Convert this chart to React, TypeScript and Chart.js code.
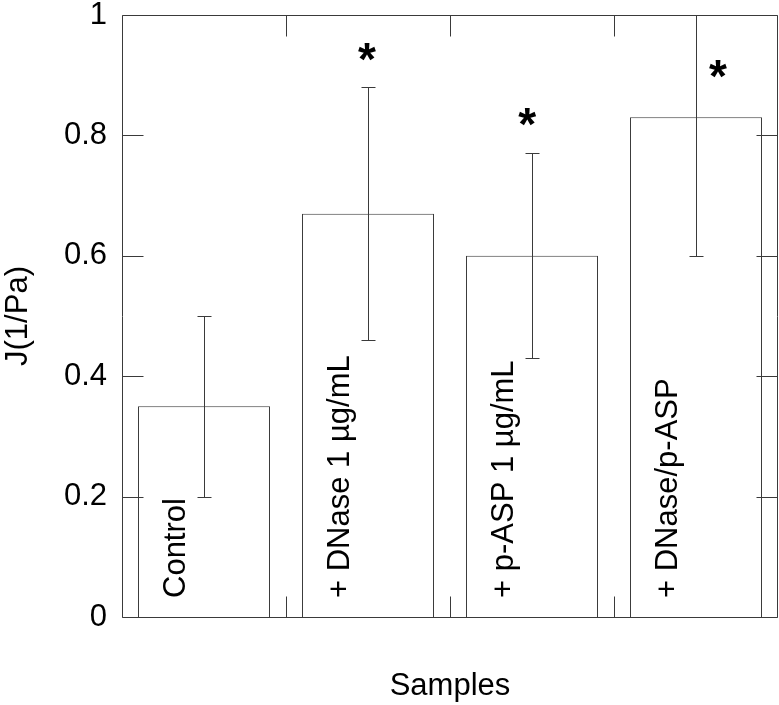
import React, { useEffect, useRef } from "react";
import { Chart, registerables } from "chart.js";
Chart.register(...registerables);

const categories = ["Control", "+ DNase 1 µg/mL", "+ p-ASP 1 µg/mL", "+ DNase/p-ASP"];
const meanJ = [0.35, 0.67, 0.6, 0.83];
const errJ = [0.15, 0.21, 0.17, 0.23];
const starValue: (number | null)[] = [null, 0.937, 0.829, 0.909];
const starShift = [0, -0.006, -0.03, 0.134];
const yTickLabels = ["0", "0.2", "0.4", "0.6", "0.8", "1"];
const xTitle = "Samples";
const yTitle = "J(1/Pa)";

const FONT = "'Liberation Sans', Arial, Helvetica, sans-serif";
const LINE = "#3a3a3a";

const decor = {
  id: "decor",
  afterDatasetsDraw(chart: any) {
    const { ctx, chartArea: a, scales } = chart;
    const x = scales.x;
    const y = scales.y;
    const px = (v: number) => Math.round(v) + 0.5;

    // error bars (clipped to plot area)
    ctx.save();
    ctx.beginPath();
    ctx.rect(a.left, a.top, a.right - a.left, a.bottom - a.top);
    ctx.clip();
    ctx.strokeStyle = LINE;
    ctx.lineWidth = 1;
    const cap = 7;
    meanJ.forEach((m, i) => {
      const cx = px(x.getPixelForValue(i));
      const yl = px(y.getPixelForValue(m - errJ[i]));
      const yh = px(y.getPixelForValue(m + errJ[i]));
      ctx.beginPath();
      ctx.moveTo(cx, yl);
      ctx.lineTo(cx, yh);
      ctx.moveTo(cx - cap, yl);
      ctx.lineTo(cx + cap, yl);
      ctx.moveTo(cx - cap, yh);
      ctx.lineTo(cx + cap, yh);
      ctx.stroke();
    });
    ctx.restore();

    // category labels inside bars
    ctx.save();
    ctx.fillStyle = "#000";
    ctx.font = `31px ${FONT}`;
    ctx.textAlign = "left";
    ctx.textBaseline = "alphabetic";
    categories.forEach((c, i) => {
      const cx = x.getPixelForValue(i);
      ctx.save();
      ctx.translate(cx - 19, a.bottom - 19);
      ctx.rotate(-Math.PI / 2);
      ctx.fillText(c, 0, 0);
      ctx.restore();
    });
    ctx.restore();

    // significance stars
    ctx.save();
    ctx.fillStyle = "#000";
    ctx.font = `bold 46px ${FONT}`;
    ctx.textAlign = "center";
    ctx.textBaseline = "alphabetic";
    starValue.forEach((v, i) => {
      if (v === null) return;
      const sx = x.getPixelForValue(i + starShift[i]);
      const sy = y.getPixelForValue(v);
      ctx.fillText("*", sx, sy + 22);
    });
    ctx.restore();

    // frame and inward ticks
    ctx.save();
    ctx.strokeStyle = LINE;
    ctx.lineWidth = 1;
    const L = px(a.left), R = px(a.right - 1), T = px(a.top), B = px(a.bottom);
    ctx.beginPath();
    ctx.rect(L, T, R - L, B - T);
    const tl = 21;
    y.ticks.forEach((t: any) => {
      const ty = px(y.getPixelForValue(t.value));
      ctx.moveTo(L, ty);
      ctx.lineTo(L + tl, ty);
      ctx.moveTo(R, ty);
      ctx.lineTo(R - tl, ty);
    });
    for (let i = 0; i < categories.length - 1; i++) {
      const tx = px(x.getPixelForValue(i + 0.5));
      ctx.moveTo(tx, T);
      ctx.lineTo(tx, T + tl);
      ctx.moveTo(tx, B);
      ctx.lineTo(tx, B - tl);
    }
    ctx.stroke();
    ctx.restore();
  },
};

export default function App() {
  const ref = useRef<HTMLCanvasElement | null>(null);
  useEffect(() => {
    if (!ref.current) return;
    const chart = new Chart(ref.current, {
      type: "bar",
      data: {
        labels: categories,
        datasets: [
          {
            data: meanJ,
            backgroundColor: "#ffffff",
            borderColor: LINE,
            borderWidth: 1,
            barPercentage: 0.805,
            categoryPercentage: 1,
          },
        ],
      },
      options: {
        animation: false,
        responsive: true,
        maintainAspectRatio: false,
        layout: { padding: { top: 15, right: 1, left: 0, bottom: 0 } },
        plugins: { legend: { display: false }, tooltip: { enabled: false } },
        scales: {
          x: {
            grid: { display: false, drawTicks: false },
            border: { display: false },
            ticks: { display: false },
            title: {
              display: true,
              text: xTitle,
              color: "#000",
              font: { family: FONT, size: 31 },
              padding: { top: 0, bottom: 0 },
            },
            afterFit: (s: any) => {
              s.height = 88;
            },
          },
          y: {
            min: 0,
            max: 1,
            grid: { display: false, drawTicks: false },
            border: { display: false },
            ticks: {
              stepSize: 0.2,
              padding: 15,
              color: "#000",
              font: { family: FONT, size: 31 },
              callback: (_v: any, i: number) => yTickLabels[i],
            },
            title: {
              display: true,
              text: yTitle,
              color: "#000",
              font: { family: FONT, size: 31 },
              padding: { top: 0, bottom: 0 },
            },
            afterFit: (s: any) => {
              s.width = 122;
              s.paddingTop = 0;
              s.paddingBottom = 0;
            },
          },
        },
      },
      plugins: [decor],
    });
    return () => chart.destroy();
  }, []);
  return (
    <div style={{ position: "fixed", left: 0, top: 0, width: 779, height: 705, background: "#fff" }}>
      <canvas ref={ref} />
    </div>
  );
}
